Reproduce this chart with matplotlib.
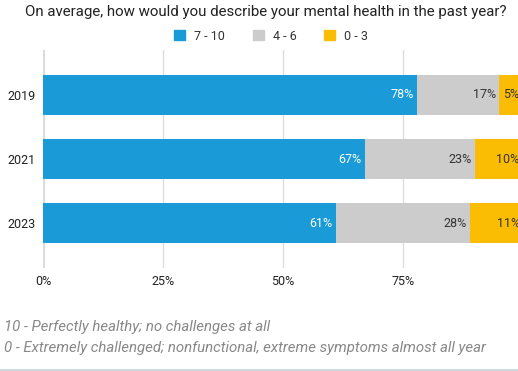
import matplotlib.pyplot as plt
from matplotlib.patches import Patch
import numpy as np

plt.rcParams['font.family'] = ['Roboto', 'DejaVu Sans']

years = ["2019", "2021", "2023"]
high = [78, 67, 61]    # 7 - 10
mid = [17, 23, 28]     # 4 - 6
low = [5, 10, 11]      # 0 - 3
series_names = ["7 - 10", "4 - 6", "0 - 3"]
colors = ["#1a9bd7", "#cccccc", "#fbbc04"]
label_colors = ["white", "#333333", "#333333"]

fig = plt.figure(figsize=(5.18, 3.71), dpi=100)
ax = fig.add_axes([43 / 518, 1 - 268 / 371, 480 / 518, 218 / 371])

y = np.arange(len(years))
left = np.zeros(len(years))
for vals, c, lc in zip([high, mid, low], colors, label_colors):
    vals = np.array(vals)
    ax.barh(y, vals, left=left, height=0.625, color=c, zorder=2)
    for yi, l, v in zip(y, left, vals):
        ax.text(l + v - 0.7, yi, f"{v}%", ha='right', va='center',
                color=lc, fontsize=9, zorder=3)
    left = left + vals

ax.set_xlim(0, 100)
ax.set_ylim(1 + 1.703, 1 - 1.703)
ax.set_yticks(y)
ax.set_yticklabels(years, fontsize=9, color="#222222")
ax.set_xticks([0, 25, 50, 75])
ax.set_xticklabels(["0%", "25%", "50%", "75%"], fontsize=9, color="#222222")
ax.tick_params(length=0)
ax.tick_params(axis='x', pad=5)
ax.tick_params(axis='y', pad=5)
for s in ax.spines.values():
    s.set_visible(False)
ax.grid(axis='x', color="#dddddd", linewidth=1, zorder=0)
ax.axvline(0, color="#333333", linewidth=1, zorder=1)

fig.text(266 / 518, 1 - 12 / 371, "On average, how would you describe your mental health in the past year?",
         ha='center', va='center', fontsize=10.8, color="#222222")

handles = [Patch(color=c) for c in colors]
fig.legend(handles, series_names, loc='center', bbox_to_anchor=(271 / 518, 1 - 36 / 371),
           ncol=3, frameon=False, fontsize=9, handlelength=0.9, handleheight=0.9,
           columnspacing=2.2, handletextpad=0.7, labelcolor="#333333")

fig.text(4 / 518, 1 - 327 / 371, "10 - Perfectly healthy; no challenges at all",
         ha='left', va='center', fontsize=10.8, style='italic', color="#888888")
fig.text(4 / 518, 1 - 348 / 371, "0 - Extremely challenged; nonfunctional, extreme symptoms almost all year",
         ha='left', va='center', fontsize=10.8, style='italic', color="#888888")
fig.add_artist(plt.Line2D([0, 1], [1 - 369.5 / 371] * 2, color="#cfdbe3", linewidth=1.5))

fig.savefig("out.png", dpi=100)
